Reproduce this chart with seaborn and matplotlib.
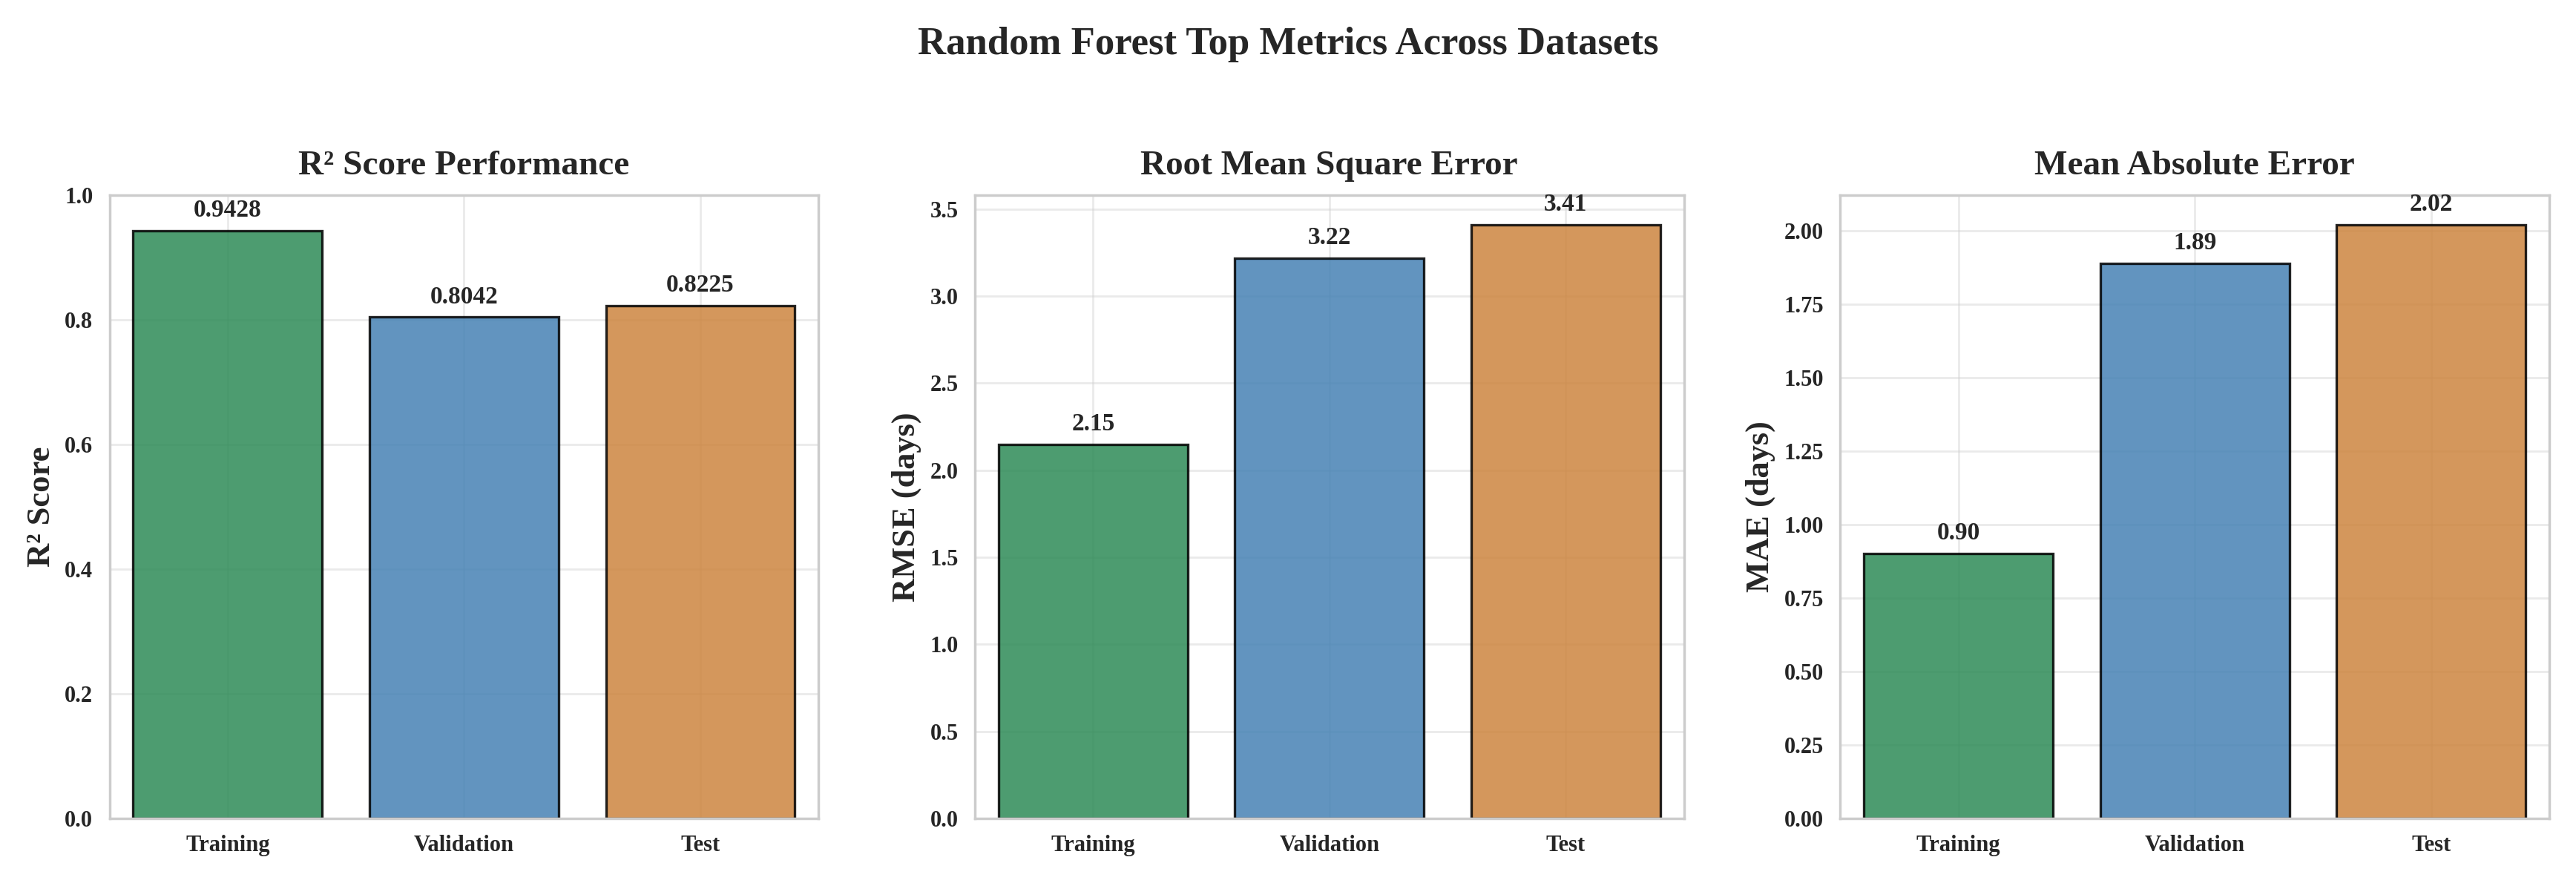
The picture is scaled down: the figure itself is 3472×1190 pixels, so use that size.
import matplotlib
matplotlib.use('Agg')
import matplotlib.pyplot as plt
import seaborn as sns
import pandas as pd

datasets = ['Training', 'Validation', 'Test']
r2_values = [0.9428, 0.8042, 0.8225]
rmse_values = [2.15, 3.22, 3.41]
mae_values = [0.90, 1.89, 2.02]
bar_colors = ['#2e8b57', '#4682b4', '#cd853f']

sns.set_theme(style='whitegrid')
plt.rcParams['font.family'] = ['Liberation Serif', 'DejaVu Serif']
plt.rcParams['font.weight'] = 'bold'

fig, axes = plt.subplots(1, 3, figsize=(17.36, 5.95), dpi=200)

panels = [
    (r2_values, 'R² Score Performance', 'R² Score', '{:.4f}', (0, 1.0)),
    (rmse_values, 'Root Mean Square Error', 'RMSE (days)', '{:.2f}', None),
    (mae_values, 'Mean Absolute Error', 'MAE (days)', '{:.2f}', None),
]

for ax, (vals, title, ylabel, fmt, ylim) in zip(axes, panels):
    df = pd.DataFrame({'Dataset': datasets, 'Value': vals})
    sns.barplot(data=df, x='Dataset', y='Value', hue='Dataset', palette=bar_colors,
                legend=False, ax=ax, alpha=0.85, edgecolor='black', linewidth=1.2,
                width=0.8, saturation=1)
    for p, v in zip(ax.patches, vals):
        ax.text(p.get_x() + p.get_width() / 2, p.get_height() + max(vals) * 0.015,
                fmt.format(v), ha='center', va='bottom', fontsize=12, fontweight='bold')
    ax.set_title(title, fontsize=17, fontweight='bold', pad=10)
    ax.set_ylabel(ylabel, fontsize=16, fontweight='bold')
    ax.set_xlabel('')
    if ylim:
        ax.set_ylim(*ylim)
    else:
        ax.set_ylim(0, max(vals) * 1.05)
    ax.tick_params(labelsize=11, pad=2)
    for lbl in ax.get_xticklabels() + ax.get_yticklabels():
        lbl.set_fontweight('bold')
    ax.grid(True, alpha=0.4)
    for s in ax.spines.values():
        s.set_color('#cccccc')

fig.suptitle('Random Forest Top Metrics Across Datasets', fontsize=19, fontweight='bold', y=0.97)
fig.tight_layout(rect=[0, 0, 1, 0.93], w_pad=2.5)
fig.savefig('out.png', dpi=200, facecolor='white')
